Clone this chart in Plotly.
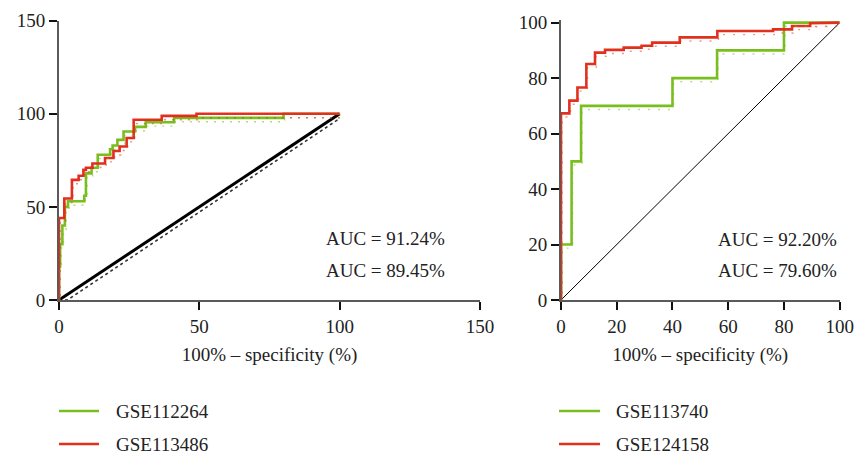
import plotly.graph_objects as go

# ROC step curves (100% - specificity, sensitivity), in percent
gse112264_x = [0, 0, 0.4, 0.4, 1.2, 1.2, 2.1, 2.1, 3.2, 3.2, 9.0, 9.0, 9.6, 9.6, 11.6, 11.6,
               13.8, 13.8, 18.2, 18.2, 19.1, 19.1, 20.8, 20.8, 23.0, 23.0, 27.1, 27.1,
               30.9, 30.9, 41.0, 41.0, 80.0, 80.0, 100]
gse112264_y = [0, 18, 18, 30, 30, 40, 40, 50, 50, 53, 53, 56, 56, 68, 68, 71,
               71, 78, 78, 81, 81, 83, 83, 86, 86, 90.5, 90.5, 93,
               93, 95.5, 95.5, 97.8, 97.8, 100, 100]

gse113486_x = [0, 0, 1.9, 1.9, 4.6, 4.6, 7.0, 7.0, 8.7, 8.7, 9.6, 9.6, 11.9, 11.9,
               16.4, 16.4, 19.4, 19.4, 21.6, 21.6, 24.1, 24.1, 26.6, 26.6, 36.6, 36.6,
               49.0, 49.0, 100]
gse113486_y = [0, 44, 44, 54.5, 54.5, 64.5, 64.5, 66.7, 66.7, 69.9, 69.9, 71, 71, 73.3,
               73.3, 76.3, 76.3, 80, 80, 82.4, 82.4, 87, 87, 96.8, 96.8, 98.9,
               98.9, 100, 100]

gse113740_x = [0, 0, 3.8, 3.8, 7.2, 7.2, 40, 40, 56, 56, 80, 80, 100]
gse113740_y = [0, 20, 20, 50, 50, 70, 70, 80, 80, 90, 90, 100, 100]

gse124158_x = [0, 0, 3.0, 3.0, 5.9, 5.9, 9.1, 9.1, 12.2, 12.2, 15.8, 15.8, 22.5, 22.5,
               28.9, 28.9, 32.7, 32.7, 42.6, 42.6, 56.1, 56.1, 76.1, 76.1, 82.9, 82.9,
               89.4, 89.4, 100]
gse124158_y = [0, 67.3, 67.3, 71.9, 71.9, 76.6, 76.6, 85.1, 85.1, 89.2, 89.2, 90.2, 90.2, 91.0,
               91.0, 91.7, 91.7, 92.8, 92.8, 94.7, 94.7, 97.0, 97.0, 97.6, 97.6, 98.8,
               98.8, 99.8, 100]

# chance line and its dotted companion
chance_x = [0, 100]
chance_y = [0, 100]
chance_dot_x = [0, 3, 100]
chance_dot_y = [0, 0, 97.5]

left_ticks = [0, 50, 100, 150]
right_ticks = [0, 20, 40, 60, 80, 100]

left_auc = ["AUC = 91.24%", "AUC = 89.45%"]
right_auc = ["AUC = 92.20%", "AUC = 79.60%"]
left_names = ["GSE112264", "GSE113486"]
right_names = ["GSE113740", "GSE124158"]

GREEN = "#79BE1E"
RED = "#E2301F"
FONT = "Liberation Serif"
W, H = 861, 457

fig = go.Figure()


def curve(x, y, color, width, xa, ya, dash=None, opacity=1.0):
    fig.add_trace(go.Scatter(x=x, y=y, mode="lines", opacity=opacity,
                             line=dict(color=color, width=width, dash=dash),
                             xaxis=xa, yaxis=ya, showlegend=False, hoverinfo="skip"))


# faint dotted echoes of each curve, drawn on hidden overlay axes set a touch lower
curve(gse112264_x, gse112264_y, GREEN, 1.4, "x3", "y3", "2px,6px", 0.55)
curve(gse113486_x, gse113486_y, RED, 1.4, "x3", "y3", "2px,6px", 0.55)
curve(gse113740_x, gse113740_y, GREEN, 1.4, "x4", "y4", "2px,8px", 0.5)
curve(gse124158_x, gse124158_y, RED, 1.4, "x4", "y4", "2px,8px", 0.5)

# left panel
curve(chance_dot_x, chance_dot_y, "#333", 1.6, "x", "y", "dot")
curve(chance_x, chance_y, "black", 3, "x", "y")
curve(gse112264_x, gse112264_y, GREEN, 2.6, "x", "y")
curve(gse113486_x, gse113486_y, RED, 2.6, "x", "y")

# right panel
curve(chance_x, chance_y, "black", 1, "x2", "y2")
curve(gse113740_x, gse113740_y, GREEN, 2.6, "x2", "y2")
curve(gse124158_x, gse124158_y, RED, 2.6, "x2", "y2")

tickfont = dict(family=FONT, size=19, color="#222")
common = dict(showgrid=False, zeroline=False, showline=True, linecolor="#5a5a5a",
              linewidth=2, ticks="outside", ticklen=8, tickwidth=2, tickcolor="#111",
              tickfont=tickfont, automargin=False)
hidden = dict(visible=False, showgrid=False, zeroline=False, automargin=False)

px2x = lambda p: p / W
px2y = lambda p: (H - p) / H

fig.update_layout(
    width=W, height=H, margin=dict(l=0, r=0, t=0, b=0, pad=0, autoexpand=False),
    paper_bgcolor="white", plot_bgcolor="white", showlegend=False,
    xaxis=dict(domain=[px2x(59), px2x(480)], range=[0, 150], tickvals=left_ticks,
               anchor="y",
               title=dict(text="100% – specificity (%)", font=tickfont, standoff=12),
               **common),
    yaxis=dict(domain=[px2y(300), px2y(20.7)], range=[0, 150], tickvals=left_ticks,
               anchor="x", **common),
    xaxis2=dict(domain=[px2x(561), px2x(839.7)], range=[0, 100], tickvals=right_ticks,
                anchor="y2",
                title=dict(text="100% – specificity (%)", font=tickfont, standoff=12),
                **common),
    yaxis2=dict(domain=[px2y(300), px2y(19.9)], range=[0, 101], tickvals=right_ticks,
                anchor="x2", **common),
    xaxis3=dict(overlaying="x", range=[-0.4, 149.6], anchor="y3", **hidden),
    yaxis3=dict(overlaying="y", range=[2.1, 152.1], anchor="x3", **hidden),
    xaxis4=dict(overlaying="x2", range=[-0.4, 99.6], anchor="y4", **hidden),
    yaxis4=dict(overlaying="y2", range=[1.3, 102.3], anchor="x4", **hidden),
)

annotations = []
for i, t in enumerate(left_auc):
    annotations.append(dict(text=t, xref="paper", yref="paper", x=px2x(447),
                            y=px2y(238 + 33 * i), xanchor="right", yanchor="middle",
                            showarrow=False, font=tickfont))
for i, t in enumerate(right_auc):
    annotations.append(dict(text=t, xref="paper", yref="paper", x=px2x(839),
                            y=px2y(239 + 32 * i), xanchor="right", yanchor="middle",
                            showarrow=False, font=tickfont))

# legend rows drawn as short line swatches with labels
shapes = []
for names, x0, x1, tx in [(left_names, 59, 99, 114), (right_names, 559, 600, 614)]:
    for i, (name, col) in enumerate(zip(names, [GREEN, RED])):
        yy = 411 + 33 * i
        shapes.append(dict(type="line", xref="paper", yref="paper",
                           x0=px2x(x0), x1=px2x(x1), y0=px2y(yy), y1=px2y(yy),
                           line=dict(color=col, width=2.5)))
        annotations.append(dict(text=name, xref="paper", yref="paper", x=px2x(tx),
                                y=px2y(yy), xanchor="left", yanchor="middle",
                                showarrow=False, font=tickfont))

fig.update_layout(annotations=annotations, shapes=shapes)
fig.write_html("out.html")
